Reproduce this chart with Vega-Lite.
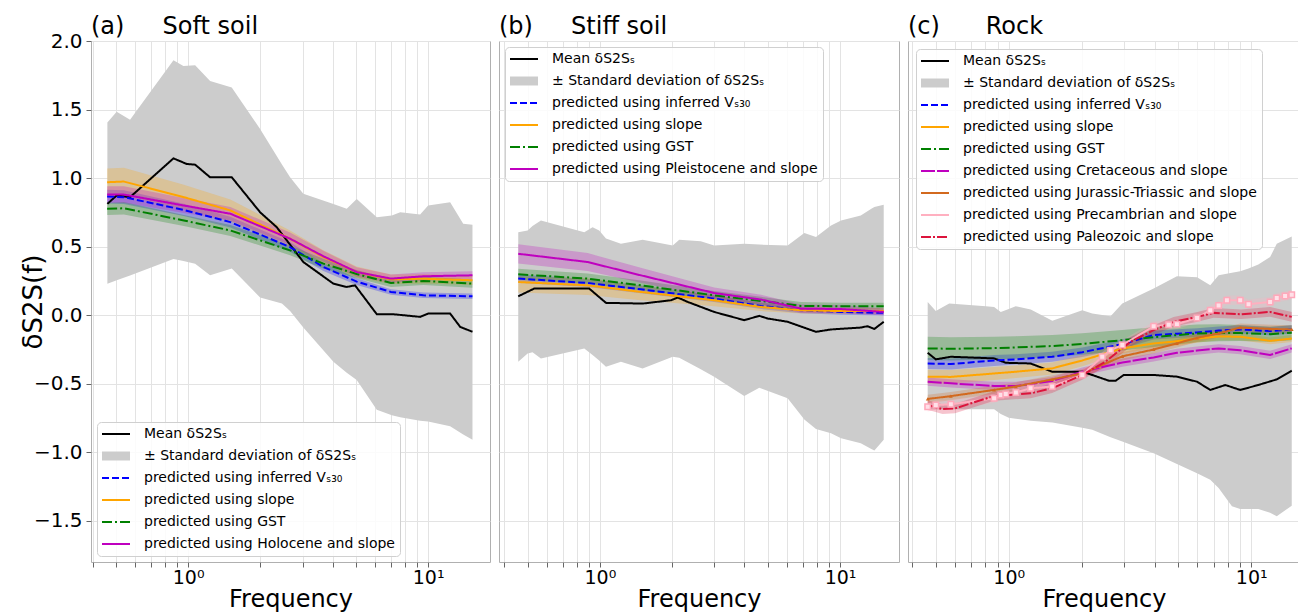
{
"$schema": "https://vega.github.io/schema/vega-lite/v6.json",
"padding": {"left": 19, "top": 14, "right": 0, "bottom": 0},
"spacing": 7,
"config": {
  "font": "DejaVu Sans",
  "view": {"stroke": "#b0b0b0", "strokeWidth": 1},
  "axis": {"gridColor": "#e3e3e3", "gridWidth": 1, "labelColor": "#000", "titleColor": "#000", "tickColor": "#666", "titleFontWeight": "normal", "domain": false},
  "legend": {"labelColor": "#000", "title": null, "labelFontSize": 14, "labelLimit": 400, "symbolType": "M-1.4,0H1.4", "symbolSize": 400, "symbolStrokeWidth": 2, "symbolOffset": 7, "rowPadding": 8, "padding": 5, "labelOffset": 21, "fillColor": "rgba(255,255,255,0.85)", "strokeColor": "#d0d0d0", "cornerRadius": 4},
  "title": {"anchor": "start", "frame": "group", "fontSize": 24, "fontWeight": "normal", "offset": 2, "color": "#000"}
},
"resolve": {"scale": {"color": "independent", "strokeDash": "independent", "fill": "independent", "x": "independent", "y": "independent"}, "legend": {"color": "independent", "strokeDash": "independent"}},
"datasets": {
"std": [
{"p":"a","f":0.461,"lo":0.23,"hi":1.406},{"p":"a","f":0.504,"lo":0.255,"hi":1.484},{"p":"a","f":0.573,"lo":0.29,"hi":1.425},{"p":"a","f":0.869,"lo":0.41,"hi":1.86},{"p":"a","f":0.956,"lo":0.395,"hi":1.818},{"p":"a","f":1.07,"lo":0.375,"hi":1.823},{"p":"a","f":1.235,"lo":0.291,"hi":1.709},{"p":"a","f":1.52,"lo":0.34,"hi":1.66},{"p":"a","f":1.995,"lo":0.13,"hi":1.358},{"p":"a","f":2.46,"lo":0.085,"hi":1.1},{"p":"a","f":2.66,"lo":0.03,"hi":1.006},{"p":"a","f":3.02,"lo":-0.09,"hi":0.885},{"p":"a","f":4.03,"lo":-0.34,"hi":0.812},{"p":"a","f":4.58,"lo":-0.42,"hi":0.776},{"p":"a","f":5.04,"lo":-0.473,"hi":0.848},{"p":"a","f":6.11,"lo":-0.69,"hi":0.715},{"p":"a","f":7.06,"lo":-0.73,"hi":0.727},{"p":"a","f":7.65,"lo":-0.745,"hi":0.751},{"p":"a","f":9.26,"lo":-0.77,"hi":0.734},{"p":"a","f":10.0,"lo":-0.776,"hi":0.8},{"p":"a","f":12.35,"lo":-0.81,"hi":0.824},{"p":"a","f":14.0,"lo":-0.87,"hi":0.667},{"p":"a","f":15.3,"lo":-0.909,"hi":0.66},
{"p":"b","f":0.457,"lo":-0.34,"hi":0.606},{"p":"b","f":0.5,"lo":-0.279,"hi":0.618},{"p":"b","f":0.524,"lo":-0.27,"hi":0.65},{"p":"b","f":0.568,"lo":-0.315,"hi":0.691},{"p":"b","f":0.861,"lo":-0.242,"hi":0.606},{"p":"b","f":0.932,"lo":-0.29,"hi":0.642},{"p":"b","f":0.993,"lo":-0.33,"hi":0.618},{"p":"b","f":1.06,"lo":-0.376,"hi":0.56},{"p":"b","f":1.223,"lo":-0.34,"hi":0.521},{"p":"b","f":1.506,"lo":-0.388,"hi":0.55},{"p":"b","f":2.01,"lo":-0.303,"hi":0.509},{"p":"b","f":2.14,"lo":-0.31,"hi":0.55},{"p":"b","f":2.63,"lo":-0.395,"hi":0.54},{"p":"b","f":2.99,"lo":-0.448,"hi":0.509},{"p":"b","f":3.99,"lo":-0.589,"hi":0.521},{"p":"b","f":4.61,"lo":-0.529,"hi":0.515},{"p":"b","f":6.05,"lo":-0.606,"hi":0.509},{"p":"b","f":7.1,"lo":-0.76,"hi":0.599},{"p":"b","f":7.94,"lo":-0.83,"hi":0.57},{"p":"b","f":9.17,"lo":-0.861,"hi":0.655},{"p":"b","f":10.1,"lo":-0.897,"hi":0.69},{"p":"b","f":12.2,"lo":-0.933,"hi":0.727},{"p":"b","f":13.5,"lo":-0.975,"hi":0.776},{"p":"b","f":13.9,"lo":-0.987,"hi":0.79},{"p":"b","f":15.2,"lo":-0.909,"hi":0.805},
{"p":"c","f":0.463,"lo":-0.686,"hi":0.097},{"p":"c","f":0.5,"lo":-0.686,"hi":0.031},{"p":"c","f":0.568,"lo":-0.686,"hi":0.085},{"p":"c","f":0.804,"lo":-0.686,"hi":0.065},{"p":"c","f":0.87,"lo":-0.686,"hi":0.06},{"p":"c","f":0.927,"lo":-0.72,"hi":0.024},{"p":"c","f":1.0,"lo":-0.747,"hi":0.045},{"p":"c","f":1.068,"lo":-0.755,"hi":0.065},{"p":"c","f":1.232,"lo":-0.77,"hi":0.041},{"p":"c","f":1.513,"lo":-0.783,"hi":-0.041},{"p":"c","f":2.01,"lo":-0.82,"hi":0.036},{"p":"c","f":2.21,"lo":-0.836,"hi":0.012},{"p":"c","f":2.63,"lo":-0.89,"hi":-0.007},{"p":"c","f":2.94,"lo":-0.921,"hi":0.085},{"p":"c","f":3.96,"lo":-1.006,"hi":0.194},{"p":"c","f":4.94,"lo":-1.085,"hi":0.284},{"p":"c","f":5.98,"lo":-1.152,"hi":0.276},{"p":"c","f":6.78,"lo":-1.2,"hi":0.218},{"p":"c","f":7.34,"lo":-1.26,"hi":0.291},{"p":"c","f":8.33,"lo":-1.394,"hi":0.31},{"p":"c","f":9.01,"lo":-1.413,"hi":0.32},{"p":"c","f":9.75,"lo":-1.413,"hi":0.34},{"p":"c","f":10.7,"lo":-1.413,"hi":0.37},{"p":"c","f":11.97,"lo":-1.44,"hi":0.424},{"p":"c","f":12.75,"lo":-1.467,"hi":0.521},{"p":"c","f":14.7,"lo":-1.389,"hi":0.575}
],
"lines": [
{"p":"a","s":"M","f":0.461,"v":0.812},{"p":"a","s":"M","f":0.504,"v":0.873},{"p":"a","s":"M","f":0.573,"v":0.861},{"p":"a","s":"M","f":0.869,"v":1.144},{"p":"a","s":"M","f":0.987,"v":1.103},{"p":"a","s":"M","f":1.07,"v":1.098},{"p":"a","s":"M","f":1.235,"v":1.006},{"p":"a","s":"M","f":1.52,"v":1.006},{"p":"a","s":"M","f":1.995,"v":0.751},{"p":"a","s":"M","f":2.34,"v":0.642},{"p":"a","s":"M","f":3.02,"v":0.388},{"p":"a","s":"M","f":4.03,"v":0.23},{"p":"a","s":"M","f":4.58,"v":0.206},{"p":"a","s":"M","f":4.96,"v":0.218},{"p":"a","s":"M","f":6.11,"v":0.007},{"p":"a","s":"M","f":7.17,"v":0.007},{"p":"a","s":"M","f":9.26,"v":-0.012},{"p":"a","s":"M","f":10.0,"v":0.012},{"p":"a","s":"M","f":12.35,"v":0.012},{"p":"a","s":"M","f":13.6,"v":-0.085},{"p":"a","s":"M","f":15.3,"v":-0.121},
{"p":"a","s":"V","f":0.46,"v":0.865,"lo":0.815,"hi":0.915},{"p":"a","s":"V","f":0.54,"v":0.861,"lo":0.811,"hi":0.911},{"p":"a","s":"V","f":0.96,"v":0.768,"lo":0.723,"hi":0.813},{"p":"a","s":"V","f":1.5,"v":0.679,"lo":0.639,"hi":0.719},{"p":"a","s":"V","f":2.66,"v":0.497,"lo":0.462,"hi":0.532},{"p":"a","s":"V","f":3.66,"v":0.352,"lo":0.322,"hi":0.382},{"p":"a","s":"V","f":5.04,"v":0.245,"lo":0.22,"hi":0.27},{"p":"a","s":"V","f":7.0,"v":0.17,"lo":0.15,"hi":0.19},{"p":"a","s":"V","f":9.56,"v":0.145,"lo":0.125,"hi":0.165},{"p":"a","s":"V","f":15.3,"v":0.138,"lo":0.118,"hi":0.158},
{"p":"a","s":"SL","f":0.46,"v":0.97,"lo":0.87,"hi":1.07},{"p":"a","s":"SL","f":0.54,"v":0.975,"lo":0.875,"hi":1.075},{"p":"a","s":"SL","f":0.96,"v":0.861,"lo":0.771,"hi":0.951},{"p":"a","s":"SL","f":1.5,"v":0.764,"lo":0.684,"hi":0.844},{"p":"a","s":"SL","f":2.66,"v":0.558,"lo":0.498,"hi":0.618},{"p":"a","s":"SL","f":3.66,"v":0.424,"lo":0.374,"hi":0.474},{"p":"a","s":"SL","f":5.04,"v":0.315,"lo":0.275,"hi":0.355},{"p":"a","s":"SL","f":7.0,"v":0.262,"lo":0.227,"hi":0.297},{"p":"a","s":"SL","f":9.56,"v":0.266,"lo":0.231,"hi":0.301},{"p":"a","s":"SL","f":15.3,"v":0.255,"lo":0.22,"hi":0.29},
{"p":"a","s":"G","f":0.46,"v":0.776,"lo":0.731,"hi":0.821},{"p":"a","s":"G","f":0.54,"v":0.78,"lo":0.735,"hi":0.825},{"p":"a","s":"G","f":0.96,"v":0.691,"lo":0.651,"hi":0.731},{"p":"a","s":"G","f":1.5,"v":0.618,"lo":0.578,"hi":0.658},{"p":"a","s":"G","f":2.66,"v":0.473,"lo":0.438,"hi":0.508},{"p":"a","s":"G","f":3.66,"v":0.376,"lo":0.341,"hi":0.411},{"p":"a","s":"G","f":5.04,"v":0.3,"lo":0.27,"hi":0.33},{"p":"a","s":"G","f":7.0,"v":0.235,"lo":0.205,"hi":0.265},{"p":"a","s":"G","f":9.56,"v":0.25,"lo":0.22,"hi":0.28},{"p":"a","s":"G","f":15.3,"v":0.23,"lo":0.2,"hi":0.26},
{"p":"a","s":"H","f":0.46,"v":0.88,"lo":0.82,"hi":0.94},{"p":"a","s":"H","f":0.54,"v":0.88,"lo":0.82,"hi":0.94},{"p":"a","s":"H","f":0.96,"v":0.8,"lo":0.745,"hi":0.855},{"p":"a","s":"H","f":1.5,"v":0.74,"lo":0.69,"hi":0.79},{"p":"a","s":"H","f":2.66,"v":0.558,"lo":0.513,"hi":0.603},{"p":"a","s":"H","f":3.66,"v":0.43,"lo":0.39,"hi":0.47},{"p":"a","s":"H","f":5.04,"v":0.315,"lo":0.28,"hi":0.35},{"p":"a","s":"H","f":7.0,"v":0.267,"lo":0.237,"hi":0.297},{"p":"a","s":"H","f":9.56,"v":0.284,"lo":0.254,"hi":0.314},{"p":"a","s":"H","f":15.3,"v":0.291,"lo":0.261,"hi":0.321},
{"p":"b","s":"M","f":0.457,"v":0.138},{"p":"b","s":"M","f":0.532,"v":0.194},{"p":"b","s":"M","f":0.903,"v":0.194},{"p":"b","s":"M","f":1.06,"v":0.09},{"p":"b","s":"M","f":1.506,"v":0.085},{"p":"b","s":"M","f":1.977,"v":0.109},{"p":"b","s":"M","f":2.11,"v":0.129},{"p":"b","s":"M","f":2.32,"v":0.097},{"p":"b","s":"M","f":2.99,"v":0.024},{"p":"b","s":"M","f":3.99,"v":-0.036},{"p":"b","s":"M","f":4.61,"v":-0.005},{"p":"b","s":"M","f":5.0,"v":-0.024},{"p":"b","s":"M","f":6.05,"v":-0.048},{"p":"b","s":"M","f":7.94,"v":-0.121},{"p":"b","s":"M","f":9.17,"v":-0.104},{"p":"b","s":"M","f":12.2,"v":-0.09},{"p":"b","s":"M","f":13.0,"v":-0.08},{"p":"b","s":"M","f":13.9,"v":-0.1},{"p":"b","s":"M","f":15.2,"v":-0.048},
{"p":"b","s":"V","f":0.457,"v":0.267,"lo":0.237,"hi":0.297},{"p":"b","s":"V","f":0.889,"v":0.235,"lo":0.205,"hi":0.265},{"p":"b","s":"V","f":1.48,"v":0.189,"lo":0.161,"hi":0.217},{"p":"b","s":"V","f":2.99,"v":0.121,"lo":0.096,"hi":0.146},{"p":"b","s":"V","f":4.69,"v":0.068,"lo":0.045,"hi":0.091},{"p":"b","s":"V","f":6.88,"v":0.036,"lo":0.014,"hi":0.058},{"p":"b","s":"V","f":10.1,"v":0.024,"lo":0.004,"hi":0.044},{"p":"b","s":"V","f":15.2,"v":0.017,"lo":-0.003,"hi":0.037},
{"p":"b","s":"SL","f":0.457,"v":0.242,"lo":0.165,"hi":0.285},{"p":"b","s":"SL","f":0.889,"v":0.218,"lo":0.148,"hi":0.27},{"p":"b","s":"SL","f":1.48,"v":0.17,"lo":0.11,"hi":0.215},{"p":"b","s":"SL","f":2.99,"v":0.109,"lo":0.065,"hi":0.145},{"p":"b","s":"SL","f":4.69,"v":0.06,"lo":0.03,"hi":0.09},{"p":"b","s":"SL","f":6.88,"v":0.036,"lo":0.012,"hi":0.06},{"p":"b","s":"SL","f":10.1,"v":0.03,"lo":0.008,"hi":0.052},{"p":"b","s":"SL","f":15.2,"v":0.03,"lo":0.008,"hi":0.052},
{"p":"b","s":"G","f":0.457,"v":0.298,"lo":0.258,"hi":0.338},{"p":"b","s":"G","f":0.889,"v":0.267,"lo":0.229,"hi":0.305},{"p":"b","s":"G","f":1.48,"v":0.218,"lo":0.182,"hi":0.254},{"p":"b","s":"G","f":2.99,"v":0.145,"lo":0.113,"hi":0.177},{"p":"b","s":"G","f":4.69,"v":0.104,"lo":0.074,"hi":0.134},{"p":"b","s":"G","f":6.88,"v":0.068,"lo":0.04,"hi":0.096},{"p":"b","s":"G","f":10.1,"v":0.065,"lo":0.039,"hi":0.091},{"p":"b","s":"G","f":15.2,"v":0.065,"lo":0.04,"hi":0.09},
{"p":"b","s":"PL","f":0.457,"v":0.448,"lo":0.378,"hi":0.518},{"p":"b","s":"PL","f":0.889,"v":0.388,"lo":0.323,"hi":0.453},{"p":"b","s":"PL","f":1.48,"v":0.291,"lo":0.236,"hi":0.346},{"p":"b","s":"PL","f":2.99,"v":0.162,"lo":0.122,"hi":0.202},{"p":"b","s":"PL","f":4.69,"v":0.114,"lo":0.079,"hi":0.149},{"p":"b","s":"PL","f":6.88,"v":0.048,"lo":0.018,"hi":0.078},{"p":"b","s":"PL","f":10.1,"v":0.045,"lo":0.015,"hi":0.075},{"p":"b","s":"PL","f":15.2,"v":0.024,"lo":-0.001,"hi":0.049},
{"p":"c","s":"M","f":0.463,"v":-0.274},{"p":"c","s":"M","f":0.5,"v":-0.322},{"p":"c","s":"M","f":0.577,"v":-0.303},{"p":"c","s":"M","f":0.87,"v":-0.315},{"p":"c","s":"M","f":0.972,"v":-0.347},{"p":"c","s":"M","f":1.23,"v":-0.352},{"p":"c","s":"M","f":1.51,"v":-0.412},{"p":"c","s":"M","f":2.01,"v":-0.412},{"p":"c","s":"M","f":2.21,"v":-0.436},{"p":"c","s":"M","f":2.59,"v":-0.478},{"p":"c","s":"M","f":2.76,"v":-0.478},{"p":"c","s":"M","f":2.98,"v":-0.436},{"p":"c","s":"M","f":3.96,"v":-0.436},{"p":"c","s":"M","f":4.94,"v":-0.448},{"p":"c","s":"M","f":5.98,"v":-0.485},{"p":"c","s":"M","f":6.78,"v":-0.545},{"p":"c","s":"M","f":7.82,"v":-0.509},{"p":"c","s":"M","f":9.01,"v":-0.545},{"p":"c","s":"M","f":10.7,"v":-0.509},{"p":"c","s":"M","f":12.75,"v":-0.468},{"p":"c","s":"M","f":14.7,"v":-0.405},
{"p":"c","s":"V","f":0.463,"v":-0.352,"lo":-0.392,"hi":-0.312},{"p":"c","s":"V","f":0.577,"v":-0.356,"lo":-0.396,"hi":-0.316},{"p":"c","s":"V","f":0.87,"v":-0.33,"lo":-0.37,"hi":-0.29},{"p":"c","s":"V","f":1.07,"v":-0.322,"lo":-0.36,"hi":-0.284},{"p":"c","s":"V","f":1.51,"v":-0.303,"lo":-0.34,"hi":-0.266},{"p":"c","s":"V","f":2.01,"v":-0.27,"lo":-0.305,"hi":-0.235},{"p":"c","s":"V","f":2.94,"v":-0.211,"lo":-0.245,"hi":-0.177},{"p":"c","s":"V","f":3.96,"v":-0.145,"lo":-0.178,"hi":-0.112},{"p":"c","s":"V","f":4.94,"v":-0.135,"lo":-0.167,"hi":-0.103},{"p":"c","s":"V","f":5.98,"v":-0.126,"lo":-0.157,"hi":-0.095},{"p":"c","s":"V","f":7.34,"v":-0.112,"lo":-0.142,"hi":-0.082},{"p":"c","s":"V","f":9.01,"v":-0.104,"lo":-0.134,"hi":-0.074},{"p":"c","s":"V","f":11.97,"v":-0.116,"lo":-0.146,"hi":-0.086},{"p":"c","s":"V","f":14.7,"v":-0.104,"lo":-0.134,"hi":-0.074},
{"p":"c","s":"SL","f":0.463,"v":-0.448,"lo":-0.498,"hi":-0.398},{"p":"c","s":"SL","f":0.577,"v":-0.45,"lo":-0.5,"hi":-0.4},{"p":"c","s":"SL","f":0.87,"v":-0.425,"lo":-0.473,"hi":-0.377},{"p":"c","s":"SL","f":1.07,"v":-0.412,"lo":-0.458,"hi":-0.366},{"p":"c","s":"SL","f":1.51,"v":-0.388,"lo":-0.432,"hi":-0.344},{"p":"c","s":"SL","f":2.01,"v":-0.33,"lo":-0.372,"hi":-0.288},{"p":"c","s":"SL","f":2.94,"v":-0.242,"lo":-0.28,"hi":-0.204},{"p":"c","s":"SL","f":3.96,"v":-0.206,"lo":-0.24,"hi":-0.172},{"p":"c","s":"SL","f":4.94,"v":-0.19,"lo":-0.222,"hi":-0.158},{"p":"c","s":"SL","f":5.98,"v":-0.17,"lo":-0.2,"hi":-0.14},{"p":"c","s":"SL","f":7.34,"v":-0.155,"lo":-0.183,"hi":-0.127},{"p":"c","s":"SL","f":9.01,"v":-0.157,"lo":-0.183,"hi":-0.131},{"p":"c","s":"SL","f":11.97,"v":-0.187,"lo":-0.212,"hi":-0.162},{"p":"c","s":"SL","f":14.7,"v":-0.17,"lo":-0.195,"hi":-0.145},
{"p":"c","s":"G","f":0.463,"v":-0.242,"lo":-0.327,"hi":-0.157},{"p":"c","s":"G","f":0.577,"v":-0.245,"lo":-0.33,"hi":-0.16},{"p":"c","s":"G","f":0.87,"v":-0.24,"lo":-0.323,"hi":-0.157},{"p":"c","s":"G","f":1.07,"v":-0.235,"lo":-0.317,"hi":-0.153},{"p":"c","s":"G","f":1.51,"v":-0.225,"lo":-0.305,"hi":-0.145},{"p":"c","s":"G","f":2.01,"v":-0.21,"lo":-0.288,"hi":-0.132},{"p":"c","s":"G","f":2.94,"v":-0.182,"lo":-0.257,"hi":-0.107},{"p":"c","s":"G","f":3.96,"v":-0.16,"lo":-0.232,"hi":-0.088},{"p":"c","s":"G","f":4.94,"v":-0.145,"lo":-0.213,"hi":-0.077},{"p":"c","s":"G","f":5.98,"v":-0.133,"lo":-0.198,"hi":-0.068},{"p":"c","s":"G","f":7.34,"v":-0.128,"lo":-0.19,"hi":-0.066},{"p":"c","s":"G","f":9.01,"v":-0.13,"lo":-0.188,"hi":-0.072},{"p":"c","s":"G","f":11.97,"v":-0.138,"lo":-0.193,"hi":-0.083},{"p":"c","s":"G","f":14.7,"v":-0.128,"lo":-0.183,"hi":-0.073},
{"p":"c","s":"CR","f":0.463,"v":-0.485,"lo":-0.515,"hi":-0.455},{"p":"c","s":"CR","f":0.577,"v":-0.497,"lo":-0.527,"hi":-0.467},{"p":"c","s":"CR","f":0.87,"v":-0.516,"lo":-0.546,"hi":-0.486},{"p":"c","s":"CR","f":1.07,"v":-0.516,"lo":-0.546,"hi":-0.486},{"p":"c","s":"CR","f":1.51,"v":-0.48,"lo":-0.51,"hi":-0.45},{"p":"c","s":"CR","f":2.01,"v":-0.412,"lo":-0.442,"hi":-0.382},{"p":"c","s":"CR","f":2.94,"v":-0.345,"lo":-0.375,"hi":-0.315},{"p":"c","s":"CR","f":3.96,"v":-0.308,"lo":-0.338,"hi":-0.278},{"p":"c","s":"CR","f":4.94,"v":-0.274,"lo":-0.304,"hi":-0.244},{"p":"c","s":"CR","f":5.98,"v":-0.258,"lo":-0.288,"hi":-0.228},{"p":"c","s":"CR","f":7.34,"v":-0.242,"lo":-0.272,"hi":-0.212},{"p":"c","s":"CR","f":9.01,"v":-0.255,"lo":-0.285,"hi":-0.225},{"p":"c","s":"CR","f":11.97,"v":-0.29,"lo":-0.32,"hi":-0.26},{"p":"c","s":"CR","f":14.7,"v":-0.242,"lo":-0.272,"hi":-0.212},
{"p":"c","s":"JT","f":0.463,"v":-0.611,"lo":-0.641,"hi":-0.581},{"p":"c","s":"JT","f":0.577,"v":-0.59,"lo":-0.62,"hi":-0.56},{"p":"c","s":"JT","f":0.87,"v":-0.545,"lo":-0.575,"hi":-0.515},{"p":"c","s":"JT","f":1.07,"v":-0.52,"lo":-0.55,"hi":-0.49},{"p":"c","s":"JT","f":1.51,"v":-0.468,"lo":-0.498,"hi":-0.438},{"p":"c","s":"JT","f":2.01,"v":-0.424,"lo":-0.454,"hi":-0.394},{"p":"c","s":"JT","f":2.94,"v":-0.3,"lo":-0.33,"hi":-0.27},{"p":"c","s":"JT","f":3.96,"v":-0.25,"lo":-0.28,"hi":-0.22},{"p":"c","s":"JT","f":4.94,"v":-0.205,"lo":-0.235,"hi":-0.175},{"p":"c","s":"JT","f":5.98,"v":-0.165,"lo":-0.195,"hi":-0.135},{"p":"c","s":"JT","f":7.34,"v":-0.133,"lo":-0.163,"hi":-0.103},{"p":"c","s":"JT","f":9.01,"v":-0.09,"lo":-0.12,"hi":-0.06},{"p":"c","s":"JT","f":11.97,"v":-0.1,"lo":-0.13,"hi":-0.07},{"p":"c","s":"JT","f":14.7,"v":-0.104,"lo":-0.134,"hi":-0.074},
{"p":"c","s":"PC","f":0.463,"v":-0.667,"lo":-0.702,"hi":-0.632},{"p":"c","s":"PC","f":0.5,"v":-0.655,"lo":-0.69,"hi":-0.62},{"p":"c","s":"PC","f":0.577,"v":-0.65,"lo":-0.685,"hi":-0.615},{"p":"c","s":"PC","f":0.87,"v":-0.606,"lo":-0.641,"hi":-0.571},{"p":"c","s":"PC","f":0.927,"v":-0.582,"lo":-0.617,"hi":-0.547},{"p":"c","s":"PC","f":0.972,"v":-0.575,"lo":-0.61,"hi":-0.54},{"p":"c","s":"PC","f":1.07,"v":-0.563,"lo":-0.598,"hi":-0.528},{"p":"c","s":"PC","f":1.23,"v":-0.533,"lo":-0.568,"hi":-0.498},{"p":"c","s":"PC","f":1.51,"v":-0.52,"lo":-0.555,"hi":-0.485},{"p":"c","s":"PC","f":2.01,"v":-0.436,"lo":-0.471,"hi":-0.401},{"p":"c","s":"PC","f":2.43,"v":-0.303,"lo":-0.338,"hi":-0.268},{"p":"c","s":"PC","f":2.63,"v":-0.255,"lo":-0.29,"hi":-0.22},{"p":"c","s":"PC","f":2.94,"v":-0.218,"lo":-0.253,"hi":-0.183},{"p":"c","s":"PC","f":3.96,"v":-0.08,"lo":-0.115,"hi":-0.045},{"p":"c","s":"PC","f":4.57,"v":-0.07,"lo":-0.105,"hi":-0.035},{"p":"c","s":"PC","f":4.94,"v":-0.065,"lo":-0.1,"hi":-0.03},{"p":"c","s":"PC","f":5.98,"v":-0.02,"lo":-0.055,"hi":0.015},{"p":"c","s":"PC","f":6.78,"v":0.036,"lo":0.001,"hi":0.071},{"p":"c","s":"PC","f":7.34,"v":0.07,"lo":0.035,"hi":0.105},{"p":"c","s":"PC","f":7.94,"v":0.109,"lo":0.074,"hi":0.144},{"p":"c","s":"PC","f":9.01,"v":0.109,"lo":0.074,"hi":0.144},{"p":"c","s":"PC","f":9.75,"v":0.08,"lo":0.045,"hi":0.115},{"p":"c","s":"PC","f":11.97,"v":0.097,"lo":0.062,"hi":0.132},{"p":"c","s":"PC","f":12.75,"v":0.126,"lo":0.091,"hi":0.161},{"p":"c","s":"PC","f":13.8,"v":0.14,"lo":0.105,"hi":0.175},{"p":"c","s":"PC","f":14.7,"v":0.15,"lo":0.115,"hi":0.185},
{"p":"c","s":"PZ","f":0.463,"v":-0.655,"lo":-0.69,"hi":-0.62},{"p":"c","s":"PZ","f":0.533,"v":-0.685,"lo":-0.72,"hi":-0.65},{"p":"c","s":"PZ","f":0.6,"v":-0.68,"lo":-0.715,"hi":-0.645},{"p":"c","s":"PZ","f":0.87,"v":-0.589,"lo":-0.624,"hi":-0.554},{"p":"c","s":"PZ","f":1.23,"v":-0.57,"lo":-0.605,"hi":-0.535},{"p":"c","s":"PZ","f":1.51,"v":-0.533,"lo":-0.568,"hi":-0.498},{"p":"c","s":"PZ","f":2.01,"v":-0.436,"lo":-0.471,"hi":-0.401},{"p":"c","s":"PZ","f":2.5,"v":-0.34,"lo":-0.375,"hi":-0.305},{"p":"c","s":"PZ","f":3.18,"v":-0.194,"lo":-0.229,"hi":-0.159},{"p":"c","s":"PZ","f":3.96,"v":-0.109,"lo":-0.144,"hi":-0.074},{"p":"c","s":"PZ","f":4.79,"v":-0.048,"lo":-0.083,"hi":-0.013},{"p":"c","s":"PZ","f":6.0,"v":-0.012,"lo":-0.047,"hi":0.023},{"p":"c","s":"PZ","f":7.0,"v":0.017,"lo":-0.018,"hi":0.052},{"p":"c","s":"PZ","f":9.1,"v":0.007,"lo":-0.028,"hi":0.042},{"p":"c","s":"PZ","f":11.97,"v":0.024,"lo":-0.011,"hi":0.059},{"p":"c","s":"PZ","f":14.7,"v":-0.012,"lo":-0.047,"hi":0.023}
]
},
"hconcat": [
{
  "width": 399, "height": 521,
  "title": {"text": "(a)\u00a0\u00a0\u00a0\u00a0\u00a0Soft soil", "offset": -8},
  "layer": [
    {"data": {"name": "std"}, "transform": [{"filter": "datum.p == 'a'"}], "mark": {"type": "area", "color": "#cccccc"},
     "encoding": {
       "x": {"field": "f", "type": "quantitative", "scale": {"type": "log", "domain": [0.394, 18.1], "nice": false}, "axis": {"values": [0.4,0.5,0.6,0.7,0.8,0.9,1,2,3,4,5,6,7,8,9,10], "labelExpr": "datum.value == 1 ? '10⁰' : datum.value == 10 ? '10¹' : ''", "title": "Frequency", "labelFontSize": 19, "titleFontSize": 24, "tickSize": 5, "labelPadding": 1, "titlePadding": 0, "labelOverlap": false, "labelFlush": false}},
       "y": {"field": "lo", "type": "quantitative", "scale": {"domain": [-1.8, 2.0], "nice": false, "zero": false}, "axis": {"values": [-1.5,-1,-0.5,0,0.5,1,1.5,2], "format": ".1f", "title": "δS2S(f)", "titleFontSize": 26, "labelFontSize": 20, "tickSize": 5, "labelPadding": 4, "titlePadding": -13}},
       "y2": {"field": "hi"}
     }},
    {"data": {"name": "lines"}, "transform": [{"filter": "datum.p == 'a' && isValid(datum.lo)"}], "mark": {"type": "area", "opacity": 0.25},
     "encoding": {"x": {"field": "f", "type": "quantitative"}, "y": {"field": "lo", "type": "quantitative"}, "y2": {"field": "hi"},
       "fill": {"field": "s", "type": "nominal", "scale": {"domain": ["V","SL","G","H"], "range": ["#0000ff","#ffa500","#008000","#bf00bf"]}, "legend": null}}},
    {"data": {"name": "lines"}, "transform": [{"filter": "datum.p == 'a'"}], "mark": {"type": "line", "strokeWidth": 2},
     "encoding": {"x": {"field": "f", "type": "quantitative"}, "y": {"field": "v", "type": "quantitative"},
       "color": {"field": "s", "type": "nominal", "scale": {"domain": ["M","SD","V","SL","G","H"], "range": ["#000000","#cccccc","#0000ff","#ffa500","#008000","#bf00bf"]},
         "legend": {"orient": "bottom-left", "offset": 6, "labelExpr": "{'M':'Mean δS2Sₛ','SD':'± Standard deviation of δS2Sₛ','V':'predicted using inferred Vₛ₃₀','SL':'predicted using slope','G':'predicted using GST','H':'predicted using Holocene and slope'}[datum.label]",
           "encode": {"symbols": {"update": {"shape": {"signal": "datum.value === 'SD' ? 'M-1.4,-0.45H1.4V0.45H-1.4Z' : 'M-1.4,0H1.4'"}, "fill": {"signal": "datum.value === 'SD' ? '#cccccc' : 'transparent'"}, "strokeWidth": {"signal": "datum.value === 'SD' ? 0 : 2"}}}}}},
       "strokeDash": {"field": "s", "type": "nominal", "scale": {"domain": ["M","SD","V","SL","G","H"], "range": [[1,0],[1,0],[7,3],[1,0],[10,3,2,3],[1,0]]}, "legend": null}}}
  ]
},
{
  "width": 400, "height": 521,
  "title": {"text": "(b)\u00a0\u00a0\u00a0\u00a0\u00a0Stiff soil"},
  "layer": [
    {"data": {"name": "std"}, "transform": [{"filter": "datum.p == 'b'"}], "mark": {"type": "area", "color": "#cccccc"},
     "encoding": {
       "x": {"field": "f", "type": "quantitative", "scale": {"type": "log", "domain": [0.38, 17.6], "nice": false}, "axis": {"values": [0.4,0.5,0.6,0.7,0.8,0.9,1,2,3,4,5,6,7,8,9,10], "labelExpr": "datum.value == 1 ? '10⁰' : datum.value == 10 ? '10¹' : ''", "title": "Frequency", "labelFontSize": 19, "titleFontSize": 24, "tickSize": 5, "labelPadding": 1, "titlePadding": 0, "labelOverlap": false, "labelFlush": false}},
       "y": {"field": "lo", "type": "quantitative", "scale": {"domain": [-1.8, 2.0], "nice": false, "zero": false}, "axis": {"values": [-1.5,-1,-0.5,0,0.5,1,1.5,2], "labels": false, "ticks": false, "title": null}},
       "y2": {"field": "hi"}
     }},
    {"data": {"name": "lines"}, "transform": [{"filter": "datum.p == 'b' && isValid(datum.lo)"}], "mark": {"type": "area", "opacity": 0.25},
     "encoding": {"x": {"field": "f", "type": "quantitative"}, "y": {"field": "lo", "type": "quantitative"}, "y2": {"field": "hi"},
       "fill": {"field": "s", "type": "nominal", "scale": {"domain": ["V","SL","G","PL"], "range": ["#0000ff","#ffa500","#008000","#bf00bf"]}, "legend": null}}},
    {"data": {"name": "lines"}, "transform": [{"filter": "datum.p == 'b'"}], "mark": {"type": "line", "strokeWidth": 2},
     "encoding": {"x": {"field": "f", "type": "quantitative"}, "y": {"field": "v", "type": "quantitative"},
       "color": {"field": "s", "type": "nominal", "scale": {"domain": ["M","SD","V","SL","G","PL"], "range": ["#000000","#cccccc","#0000ff","#ffa500","#008000","#bf00bf"]},
         "legend": {"orient": "top-left", "offset": 6, "labelExpr": "{'M':'Mean δS2Sₛ','SD':'± Standard deviation of δS2Sₛ','V':'predicted using inferred Vₛ₃₀','SL':'predicted using slope','G':'predicted using GST','PL':'predicted using Pleistocene and slope'}[datum.label]",
           "encode": {"symbols": {"update": {"shape": {"signal": "datum.value === 'SD' ? 'M-1.4,-0.45H1.4V0.45H-1.4Z' : 'M-1.4,0H1.4'"}, "fill": {"signal": "datum.value === 'SD' ? '#cccccc' : 'transparent'"}, "strokeWidth": {"signal": "datum.value === 'SD' ? 0 : 2"}}}}}},
       "strokeDash": {"field": "s", "type": "nominal", "scale": {"domain": ["M","SD","V","SL","G","PL"], "range": [[1,0],[1,0],[7,3],[1,0],[10,3,2,3],[1,0]]}, "legend": null}}}
  ]
},
{
  "width": 392, "height": 521,
  "title": {"text": "(c)\u00a0\u00a0\u00a0\u00a0\u00a0\u00a0Rock"},
  "layer": [
    {"data": {"name": "std"}, "transform": [{"filter": "datum.p == 'c'"}], "mark": {"type": "area", "color": "#cccccc"},
     "encoding": {
       "x": {"field": "f", "type": "quantitative", "scale": {"type": "log", "domain": [0.384, 15.9], "nice": false}, "axis": {"values": [0.4,0.5,0.6,0.7,0.8,0.9,1,2,3,4,5,6,7,8,9,10], "labelExpr": "datum.value == 1 ? '10⁰' : datum.value == 10 ? '10¹' : ''", "title": "Frequency", "labelFontSize": 19, "titleFontSize": 24, "tickSize": 5, "labelPadding": 1, "titlePadding": 0, "labelOverlap": false, "labelFlush": false}},
       "y": {"field": "lo", "type": "quantitative", "scale": {"domain": [-1.8, 2.0], "nice": false, "zero": false}, "axis": {"values": [-1.5,-1,-0.5,0,0.5,1,1.5,2], "labels": false, "ticks": false, "title": null}},
       "y2": {"field": "hi"}
     }},
    {"data": {"name": "lines"}, "transform": [{"filter": "datum.p == 'c' && isValid(datum.lo)"}], "mark": {"type": "area", "opacity": 0.25},
     "encoding": {"x": {"field": "f", "type": "quantitative"}, "y": {"field": "lo", "type": "quantitative"}, "y2": {"field": "hi"},
       "fill": {"field": "s", "type": "nominal", "scale": {"domain": ["V","SL","G","CR","JT","PC","PZ"], "range": ["#0000ff","#ffa500","#008000","#bf00bf","#d2691e","#ffb0c0","#dc143c"]}, "legend": null}}},
    {"data": {"name": "lines"}, "transform": [{"filter": "datum.p == 'c'"}], "mark": {"type": "line", "strokeWidth": 2},
     "encoding": {"x": {"field": "f", "type": "quantitative"}, "y": {"field": "v", "type": "quantitative"},
       "color": {"field": "s", "type": "nominal", "scale": {"domain": ["M","SD","V","SL","G","CR","JT","PC","PZ"], "range": ["#000000","#cccccc","#0000ff","#ffa500","#008000","#bf00bf","#d2691e","#ffb0c0","#dc143c"]},
         "legend": {"orient": "top-left", "offset": 8, "labelExpr": "{'M':'Mean δS2Sₛ','SD':'± Standard deviation of δS2Sₛ','V':'predicted using inferred Vₛ₃₀','SL':'predicted using slope','G':'predicted using GST','CR':'predicted using Cretaceous and slope','JT':'predicted using Jurassic-Triassic and slope','PC':'predicted using Precambrian and slope','PZ':'predicted using Paleozoic and slope'}[datum.label]",
           "encode": {"symbols": {"update": {"shape": {"signal": "datum.value === 'SD' ? 'M-1.4,-0.45H1.4V0.45H-1.4Z' : 'M-1.4,0H1.4'"}, "fill": {"signal": "datum.value === 'SD' ? '#cccccc' : 'transparent'"}, "strokeWidth": {"signal": "datum.value === 'SD' ? 0 : 2"}}}}}},
       "strokeDash": {"field": "s", "type": "nominal", "scale": {"domain": ["M","SD","V","SL","G","CR","JT","PC","PZ"], "range": [[1,0],[1,0],[7,3],[1,0],[10,3,2,3],[14,2],[1,0],[1,0],[10,2,2,2]]}, "legend": null}}},
    {"data": {"name": "lines"}, "transform": [{"filter": "datum.p == 'c' && datum.s == 'JT'"}], "mark": {"type": "point", "shape": "triangle-up", "filled": true, "size": 14, "color": "#d2691e", "opacity": 1},
     "encoding": {"x": {"field": "f", "type": "quantitative"}, "y": {"field": "v", "type": "quantitative"}}},
    {"data": {"name": "lines"}, "transform": [{"filter": "datum.p == 'c' && datum.s == 'PC'"}], "mark": {"type": "point", "shape": "square", "size": 30, "fill": "#ffe0e8", "stroke": "#ffa8ba", "strokeWidth": 1.5, "opacity": 1, "fillOpacity": 1},
     "encoding": {"x": {"field": "f", "type": "quantitative"}, "y": {"field": "v", "type": "quantitative"}}}
  ]
}
]
}
